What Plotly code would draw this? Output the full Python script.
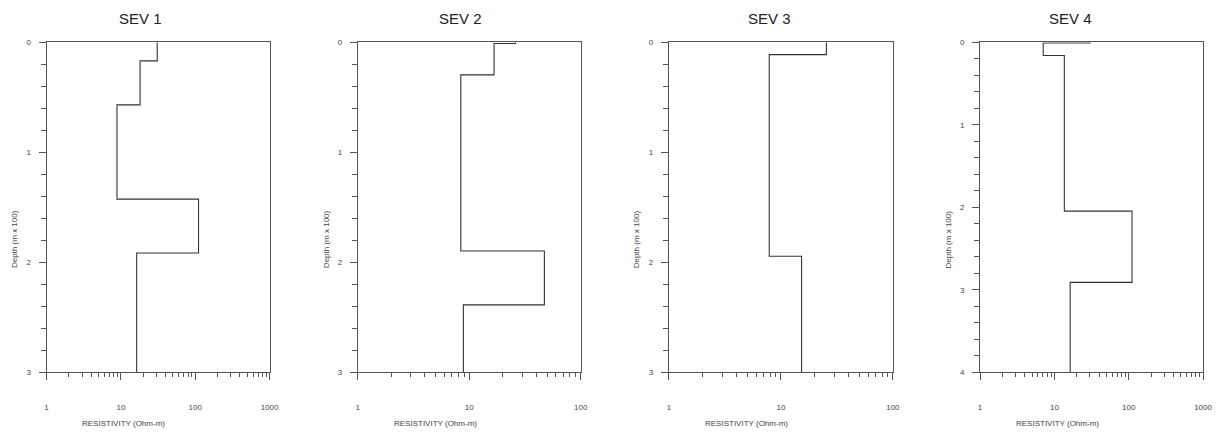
import plotly.graph_objects as go

W, H = 1218, 440

# --- data (resistivity in Ohm-m, layer boundaries in m x 100) ---
titles = ["SEV 1", "SEV 2", "SEV 3", "SEV 4"]

sev1_rho = [30.8, 18.1, 8.85, 110.7, 16.3]
sev1_bounds = [0.17, 0.57, 1.426, 1.916]
sev2_rho = [26.0, 16.7, 8.4, 47.2, 8.86]
sev2_bounds = [0.012, 0.297, 1.898, 2.387]
sev3_rho = [25.5, 7.87, 15.3]
sev3_bounds = [0.113, 1.945]
sev4_rho = [30.2, 7.07, 13.6, 110.7, 16.3]
sev4_bounds = [0.01, 0.162, 2.047, 2.91]

max_depth = [3, 3, 3, 4]
x_decades = [3, 2, 2, 3]  # log range upper bound
x_ticklabels = ["1", "10", "100", "1000"]

# --- panel geometry in page pixels ---
panels_px = [(45, 270), (359, 584), (673, 899), (987, 1212)]
plot_top, plot_bot = 39, 376
title_x_px = [140, 463, 774, 1078]
xtitle_x_px = [123, 437, 751, 1065]
ytitle_x_px = [12, 327, 640, 955]

AXIS_COL = "#555555"
LINE_COL = "#333333"
FONT = "Liberation Sans, Arial, sans-serif"


def step_profile(rho, bounds, bottom):
    tops = [0] + bounds
    bots = bounds + [bottom]
    xs, ys = [], []
    for r, t, b in zip(rho, tops, bots):
        xs += [r, r]
        ys += [t, b]
    return xs, ys


profiles = [
    (sev1_rho, sev1_bounds),
    (sev2_rho, sev2_bounds),
    (sev3_rho, sev3_bounds),
    (sev4_rho, sev4_bounds),
]

fig = go.Figure()
layout = {}
annotations = []
ydom = [1 - plot_bot / H, 1 - plot_top / H]

for i, ((rho, bounds), (x0, x1)) in enumerate(zip(profiles, panels_px)):
    n = i + 1
    xs, ys = step_profile(rho, bounds, max_depth[i])
    fig.add_trace(
        go.Scatter(
            x=xs, y=ys, mode="lines", line=dict(color=LINE_COL, width=1.1),
            xaxis=f"x{n}", yaxis=f"y{n}", showlegend=False, hoverinfo="skip",
        )
    )
    dom = [x0 / W, x1 / W]
    dec = x_decades[i]
    xvals = [10 ** k for k in range(dec + 1)]
    minor_x = [m * 10 ** k for k in range(dec) for m in range(2, 10)]
    ymax = max_depth[i]

    layout[f"xaxis{n}"] = dict(
        domain=dom, anchor=f"y{n}", type="log", range=[0, dec],
        showline=True, linecolor=AXIS_COL, linewidth=1, mirror=True,
        showgrid=False, zeroline=False,
        ticks="outside", ticklen=7, tickcolor=AXIS_COL, tickwidth=1,
        tickmode="array", tickvals=xvals, ticktext=x_ticklabels[: dec + 1],
        ticklabelstandoff=20,
        tickfont=dict(size=8, color="#444444", family=FONT),
        minor=dict(tickmode="array", tickvals=minor_x, ticks="outside",
                   ticklen=4, tickcolor=AXIS_COL, showgrid=False),
    )
    layout[f"yaxis{n}"] = dict(
        domain=ydom, anchor=f"x{n}", range=[ymax, 0],
        showline=True, linecolor=AXIS_COL, linewidth=1, mirror=True,
        showgrid=False, zeroline=False,
        ticks="outside", ticklen=7, tickcolor=AXIS_COL, tickwidth=1,
        tickmode="array", tickvals=list(range(ymax + 1)),
        ticklabelstandoff=6,
        tickfont=dict(size=8, color="#444444", family=FONT),
        minor=dict(dtick=0.2, ticks="outside", ticklen=5,
                   tickcolor=AXIS_COL, showgrid=False),
    )
    # inward mirrored major ticks on top and right
    layout[f"xaxis{n + 4}"] = dict(
        overlaying=f"x{n}", anchor=f"y{n}", side="top", type="log",
        range=[0, dec], showline=False, showgrid=False, zeroline=False,
        ticks="inside", ticklen=5, tickcolor=AXIS_COL,
        tickmode="array", tickvals=xvals[1:-1], showticklabels=False,
    )
    layout[f"yaxis{n + 4}"] = dict(
        overlaying=f"y{n}", anchor=f"x{n}", side="right", range=[ymax, 0],
        showline=False, showgrid=False, zeroline=False,
        ticks="inside", ticklen=7, tickcolor=AXIS_COL,
        tickmode="array", tickvals=list(range(1, ymax)), showticklabels=False,
    )

    common = dict(xref="paper", yref="paper", showarrow=False,
                  xanchor="center", yanchor="middle")
    annotations.append(dict(
        text=titles[i], x=title_x_px[i] / W, y=1 - 15 / H,
        font=dict(size=15, color="#222222", family=FONT), **common,
    ))
    annotations.append(dict(
        text="RESISTIVITY (Ohm-m)", x=xtitle_x_px[i] / W, y=1 - 428 / H,
        font=dict(size=8, color="#444444", family=FONT), **common,
    ))
    annotations.append(dict(
        text="Depth (m x 100)", x=ytitle_x_px[i] / W, y=1 - 240 / H,
        textangle=-90,
        font=dict(size=8, color="#444444", family=FONT), **common,
    ))

fig.update_layout(
    width=W, height=H,
    margin=dict(l=0, r=0, t=0, b=0),
    paper_bgcolor="white", plot_bgcolor="white",
    annotations=annotations,
    **layout,
)

# drop the browser's default body margin so the figure fills the window exactly
fig.write_html(
    "out.html",
    config={"displayModeBar": False},
    post_script="document.body.style.margin='0';document.body.style.overflow='hidden';",
)
